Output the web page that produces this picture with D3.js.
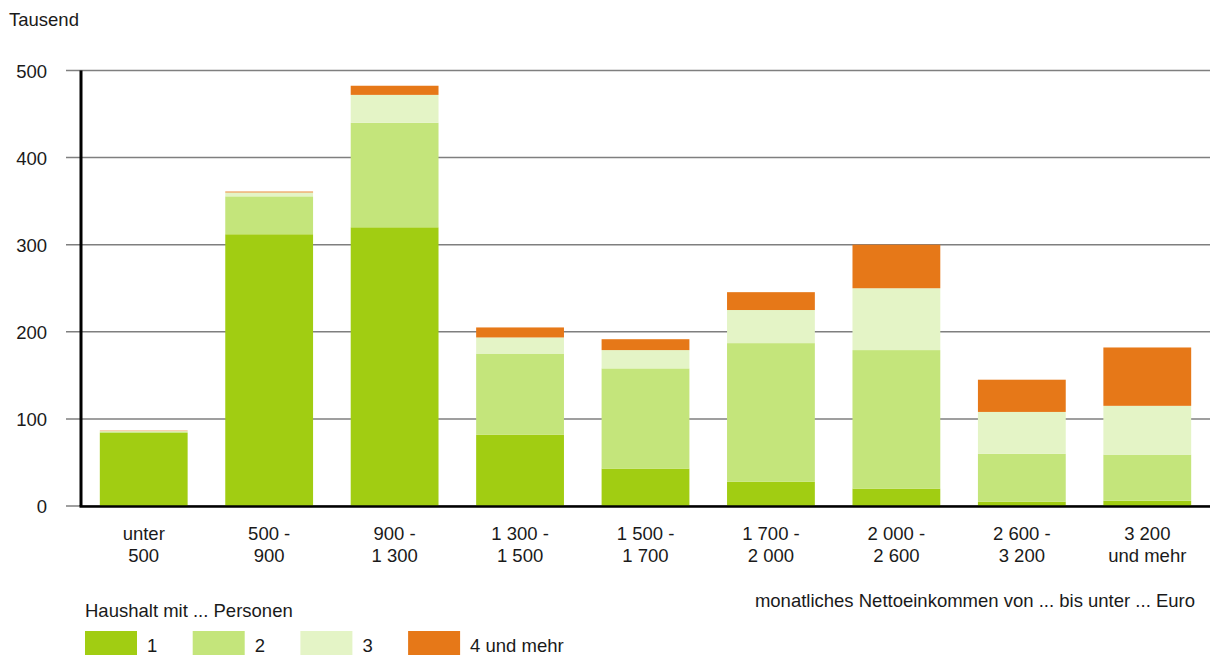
<!DOCTYPE html>
<html>
<head>
<meta charset="utf-8">
<script src="https://cdn.jsdelivr.net/npm/d3@7/dist/d3.min.js"></script>
<style>
  body { margin: 0; background: #fff; }
  svg text { font-family: "Liberation Sans", Arial, sans-serif; font-size: 18.5px; fill: #1a1a1a; }
</style>
</head>
<body>
<svg id="chart" width="1219" height="657"></svg>
<script>
  //Data - thousand households by monthly net income and household size
  const categories = [
    ["unter", "500"], ["500 -", "900"], ["900 -", "1 300"], ["1 300 -", "1 500"],
    ["1 500 -", "1 700"], ["1 700 -", "2 000"], ["2 000 -", "2 600"],
    ["2 600 -", "3 200"], ["3 200", "und mehr"]
  ];
  const persons1 = [84, 312, 320, 82, 43, 28, 20, 5, 6];
  const persons2 = [1.5, 43.5, 120, 93, 115, 159, 159, 55, 53];
  const persons3 = [0.5, 4.5, 32, 18.5, 21, 38, 71, 48, 56];
  const persons4 = [0.5, 1, 10.5, 11.5, 12.5, 20.5, 50, 37, 67];
  const seriesNames = ["1", "2", "3", "4 und mehr"];
  const seriesColors = ["#a1cd12", "#c4e57b", "#e4f4c6", "#e67818"];
  const yTicks = [0, 100, 200, 300, 400, 500];

  let svg = d3.select("#chart");

  //Dimensions of the plot area
  let margin = {top: 70.5, left: 81, right: 9, bottom: 151};
  let width = 1219 - margin.left - margin.right;
  let height = 657 - margin.top - margin.bottom;

  //Build rows for the stack layout
  let rows = categories.map(function(c, i) {
    return {key: i, s0: persons1[i], s1: persons2[i], s2: persons3[i], s3: persons4[i]};
  });
  let stack = d3.stack().keys(["s0", "s1", "s2", "s3"]);
  let layers = stack(rows);

  let x = d3.scaleBand()
    .domain(d3.range(categories.length))
    .range([0, width])
    .paddingInner(0.3)
    .paddingOuter(0.15);

  let y = d3.scaleLinear().domain([0, 500]).range([height, 0]);

  let g = svg.append("g")
    .attr("transform", "translate(" + margin.left + "," + margin.top + ")");

  //Horizontal grid lines
  g.selectAll(".grid")
    .data(yTicks)
    .enter()
    .append("line")
      .attr("class", "grid")
      .attr("x1", -15)
      .attr("x2", width)
      .attr("y1", function(d) { return y(d); })
      .attr("y2", function(d) { return y(d); })
      .attr("stroke", "#7f7f7f")
      .attr("stroke-width", 1.5);

  //Y axis tick labels
  let yAxis = d3.axisLeft(y).tickValues(yTicks).tickSize(0).tickPadding(34);
  let yg = g.append("g").call(yAxis);
  yg.select(".domain").remove();
  yg.selectAll("text")
    .attr("font-size", null)
    .attr("font-family", null)
    .attr("fill", null)
    .attr("dy", "0.36em");

  //Stacked bars
  g.selectAll(".layer")
    .data(layers)
    .enter()
    .append("g")
      .attr("class", "layer")
      .attr("fill", function(d, i) { return seriesColors[i]; })
    .selectAll("rect")
    .data(function(d) { return d; })
    .enter()
    .append("rect")
      .attr("x", function(d, i) { return x(i); })
      .attr("width", x.bandwidth())
      .attr("y", function(d) { return y(d[1]); })
      .attr("height", function(d) { return y(d[0]) - y(d[1]); });

  //Axis lines
  g.append("line")
    .attr("x1", 0).attr("x2", 0)
    .attr("y1", 0).attr("y2", height)
    .attr("stroke", "#000").attr("stroke-width", 3);
  g.append("line")
    .attr("x1", -1.5).attr("x2", width)
    .attr("y1", height + 0.5).attr("y2", height + 0.5)
    .attr("stroke", "#000").attr("stroke-width", 2.5);

  //X category labels on two lines
  let xl = g.selectAll(".xlabel")
    .data(categories)
    .enter()
    .append("text")
      .attr("class", "xlabel")
      .attr("text-anchor", "middle")
      .attr("transform", function(d, i) { return "translate(" + (x(i) + x.bandwidth() / 2) + "," + (height + 34) + ")"; });
  xl.append("tspan").attr("x", 0).attr("y", 0).text(function(d) { return d[0]; });
  xl.append("tspan").attr("x", 0).attr("y", 22).text(function(d) { return d[1]; });

  //Unit and axis titles
  svg.append("text").attr("x", 9).attr("y", 26).text("Tausend");
  svg.append("text")
    .attr("x", 1195).attr("y", 607)
    .attr("text-anchor", "end")
    .text("monatliches Nettoeinkommen von ... bis unter ... Euro");

  //Legend
  svg.append("text").attr("x", 85).attr("y", 617).text("Haushalt mit ... Personen");
  let legend = svg.selectAll(".legend")
    .data(seriesNames)
    .enter()
    .append("g")
      .attr("class", "legend")
      .attr("transform", function(d, i) { return "translate(" + (85 + i * 107.7) + ",631)"; });
  legend.append("rect")
    .attr("width", 52)
    .attr("height", 24)
    .attr("fill", function(d, i) { return seriesColors[i]; });
  legend.append("text")
    .attr("x", 62)
    .attr("y", 21)
    .text(function(d) { return d; });
</script>
</body>
</html>
